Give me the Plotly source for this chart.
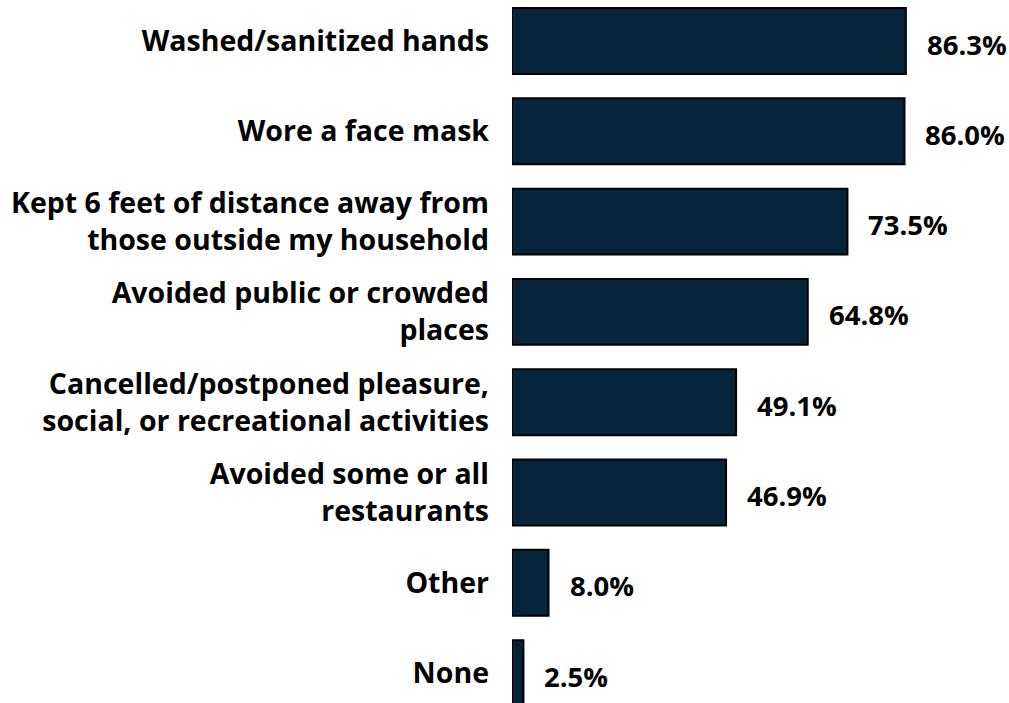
import plotly.graph_objects as go

# Protective behaviours reported, share of respondents (%)
categories = [
    "Washed/sanitized hands",
    "Wore a face mask",
    "Kept 6 feet of distance away from<br>those outside my household",
    "Avoided public or crowded<br>places",
    "Cancelled/postponed pleasure,<br>social, or recreational activities",
    "Avoided some or all<br>restaurants",
    "Other",
    "None",
]
values = [86.3, 86.0, 73.5, 64.8, 49.1, 46.9, 8.0, 2.5]

positions = list(range(len(categories)))
bar_color = "#06253A"
font_family = "'Open Sans', sans-serif"

fig = go.Figure(
    go.Bar(
        x=values,
        y=positions,
        orientation="h",
        width=0.73,
        marker=dict(color=bar_color, line=dict(color="#000000", width=2)),
        hoverinfo="skip",
    )
)

for pos, val in zip(positions, values):
    fig.add_annotation(
        x=val, y=pos, xref="x", yref="y",
        text=f"{val:.1f}%",
        showarrow=False,
        xanchor="left", yanchor="middle",
        xshift=19, yshift=-3,
        font=dict(family=font_family, size=27.5, color="#000000", weight="bold"),
    )

fig.update_layout(
    width=1009, height=703,
    margin=dict(l=512, r=0, t=0, b=0),
    paper_bgcolor="#ffffff",
    plot_bgcolor="#ffffff",
    showlegend=False,
    xaxis=dict(range=[0, 108.9], visible=False, fixedrange=True),
    yaxis=dict(
        range=[7.331, -0.454],
        tickvals=positions,
        ticktext=categories,
        ticks="",
        showgrid=False,
        zeroline=False,
        showline=False,
        ticklabelstandoff=22,
        tickfont=dict(family=font_family, size=28.5, color="#000000", weight="bold"),
        fixedrange=True,
    ),
)

fig.write_html("out.html")
